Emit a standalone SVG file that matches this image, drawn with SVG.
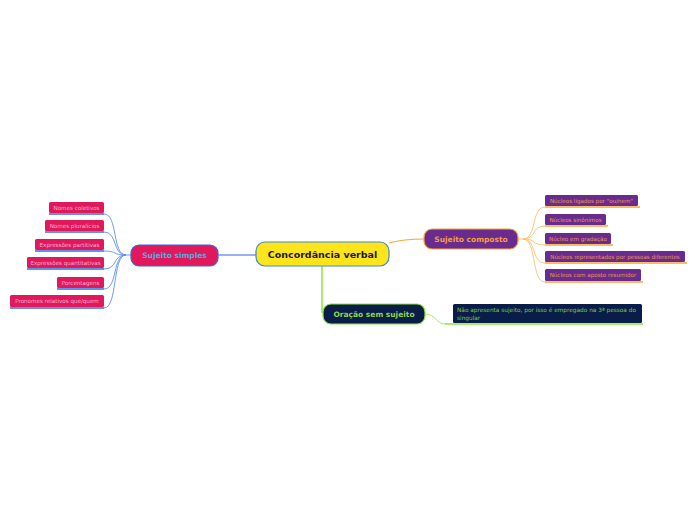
<svg xmlns="http://www.w3.org/2000/svg" width="696" height="520" viewBox="0 0 696 520">
<style>
text{font-family:"DejaVu Sans","Verdana",sans-serif;text-anchor:middle}
.root rect{fill:#FEE41A;stroke:#3D8BC9;stroke-width:1.2}
.root text{font-size:9.5px;font-weight:bold;fill:#1a1a1a}
.ss rect{fill:#E1195C;stroke:#2E6BE8;stroke-width:1.2}
.ss text{font-size:7.5px;font-weight:bold;fill:#5AA9E0}
.sc rect{fill:#6A2B8F;stroke:#F6A633;stroke-width:1.2}
.sc text{font-size:7.5px;font-weight:bold;fill:#F5A033}
.os rect{fill:#0A1D49;stroke:#8EE63C;stroke-width:1.2}
.os text{font-size:7.5px;font-weight:bold;fill:#8FD448}
.cs rect{fill:#E1195C}
.cs text{font-size:5.6px;fill:#F4B0D0}
.cs line{stroke:#2E6BE8;stroke-width:1.3}
.cc rect{fill:#6A2B8F}
.cc text{font-size:5.6px;fill:#E9994A}
.cc line{stroke:#F6A633;stroke-width:1.3}
.co rect{fill:#0A1D49}
.co text{font-size:5.8px;fill:#7EC845;text-anchor:start}
.co line{stroke:#8EE63C;stroke-width:1.3}
#connectors path{fill:none;stroke-width:0.9}
.b{stroke:#5C8EF0}
.o{stroke:#F9C070}
.g{stroke:#9CEB4C}
</style>
<g id="connectors">
<path class="b" d="M256 255 L218 255" style="stroke:#2E6BE8;stroke-width:1.2"/>
<path class="o" d="M389 243 C400 240 410 239 424 239" style="stroke:#F6A633;stroke-width:1.2"/>
<path class="g" d="M322 266 L322 312 L323 312" style="stroke:#8EE63C;stroke-width:1.5"/>
<path class="g" d="M425 314 C436 314 436 324 445 324"/>
<path class="b" d="M131 255 L126 255"/>
<path class="b" d="M126 255 C112 255 118 214 104 214"/>
<path class="b" d="M126 255 C112 255 118 232 104 232"/>
<path class="b" d="M126 255 C112 255 118 251 104 251"/>
<path class="b" d="M126 255 C112 255 118 269 104 269"/>
<path class="b" d="M126 255 C112 255 118 289 104 289"/>
<path class="b" d="M126 255 C112 255 118 308 104 308"/>
<path class="o" d="M518 239 L523 239"/>
<path class="o" d="M523 239 C537 239 531 207 545 207"/>
<path class="o" d="M523 239 C537 239 531 226 545 226"/>
<path class="o" d="M523 239 C537 239 531 245 545 245"/>
<path class="o" d="M523 239 C537 239 531 263 545 263"/>
<path class="o" d="M523 239 C537 239 531 282 545 282"/>
</g>
<g id="root" class="root"><rect x="256" y="242" width="133" height="24" rx="9"/><text x="322.5" y="257.5">Concordância verbal</text></g>
<g id="sujeito-simples" class="ss"><rect x="131" y="245" width="87" height="21" rx="8"/><text x="174.5" y="258.3">Sujeito simples</text></g>
<g id="sujeito-composto" class="sc"><rect x="424" y="229" width="94" height="20" rx="8"/><text x="471" y="241.8">Sujeito composto</text></g>
<g id="oracao-sem-sujeito" class="os"><rect x="323" y="304" width="102" height="20" rx="8"/><text x="374" y="316.8">Oração sem sujeito</text></g>
<g id="ss1" class="cs"><rect x="49" y="202" width="55" height="11" rx="1.5"/><line x1="49" y1="214" x2="104" y2="214"/><text x="76.5" y="209.6">Nomes coletivos</text></g>
<g id="ss2" class="cs"><rect x="45" y="220" width="59" height="11" rx="1.5"/><line x1="45" y1="232" x2="104" y2="232"/><text x="74.5" y="227.6">Nomes pluralícios</text></g>
<g id="ss3" class="cs"><rect x="35" y="239" width="69" height="11" rx="1.5"/><line x1="35" y1="251" x2="104" y2="251"/><text x="69.5" y="246.6">Expressões partitivas</text></g>
<g id="ss4" class="cs"><rect x="27" y="257" width="77" height="11" rx="1.5"/><line x1="27" y1="269" x2="104" y2="269"/><text x="65.5" y="264.6">Expressões quantitativas</text></g>
<g id="ss5" class="cs"><rect x="57" y="277" width="47" height="11" rx="1.5"/><line x1="57" y1="289" x2="104" y2="289"/><text x="80.5" y="284.6">Porcentagens</text></g>
<g id="ss6" class="cs"><rect x="10" y="295" width="94" height="12" rx="1.5"/><line x1="10" y1="308" x2="104" y2="308"/><text x="57" y="303.2">Pronomes relativos que/quem</text></g>
<g id="sc1" class="cc"><rect x="545" y="195" width="93" height="11" rx="1.5"/><line x1="545" y1="207" x2="640" y2="207"/><text x="591.5" y="202.6">Núcleos ligados por "ou/nem"</text></g>
<g id="sc2" class="cc"><rect x="545" y="214" width="61" height="11" rx="1.5"/><line x1="545" y1="226" x2="608" y2="226"/><text x="575.5" y="221.6">Núcleos sinônimos</text></g>
<g id="sc3" class="cc"><rect x="545" y="233" width="66" height="11" rx="1.5"/><line x1="545" y1="245" x2="613" y2="245"/><text x="578" y="240.6">Núcleo em gradação</text></g>
<g id="sc4" class="cc"><rect x="545" y="251" width="140" height="11" rx="1.5"/><line x1="545" y1="263" x2="687" y2="263"/><text x="615" y="258.6">Núcleos representados por pessoas diferentes</text></g>
<g id="sc5" class="cc"><rect x="545" y="269" width="96" height="12" rx="1.5"/><line x1="545" y1="282" x2="643" y2="282"/><text x="593" y="277.2">Núcleos com aposto resumidor</text></g>
<g id="os1" class="co"><rect x="453" y="304" width="189" height="19" rx="1.5"/><line x1="445" y1="324" x2="643" y2="324"/><text x="457" y="312.3">Não apresenta sujeito, por isso é empregado na 3ª pessoa do</text><text x="457" y="319.5">singular</text></g>
</svg>
